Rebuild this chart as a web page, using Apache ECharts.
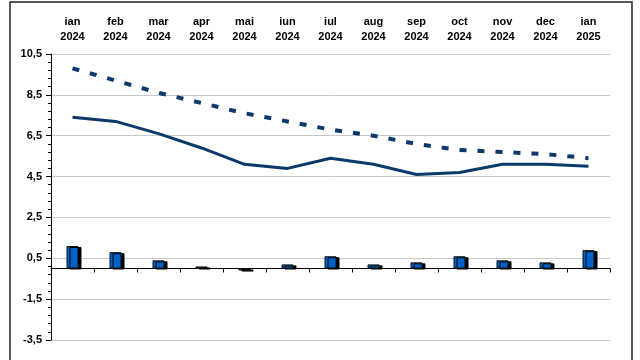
<!DOCTYPE html>
<html>
<head>
<meta charset="utf-8">
<script src="https://cdn.jsdelivr.net/npm/echarts@6/dist/echarts.min.js"></script>
<style>html,body{margin:0;padding:0;background:#fff}#c{width:640px;height:360px}</style>
</head>
<body>
<div id="c"></div>
<script>
const categories = ['ian\n2024','feb\n2024','mar\n2024','apr\n2024','mai\n2024','iun\n2024','iul\n2024','aug\n2024','sep\n2024','oct\n2024','nov\n2024','dec\n2024','ian\n2025'];
const solidLine = [7.4, 7.2, 6.6, 5.9, 5.1, 4.9, 5.4, 5.1, 4.6, 4.7, 5.1, 5.1, 5.0];
const dashedLine = [9.8, 9.2, 8.6, 8.1, 7.6, 7.2, 6.8, 6.5, 6.1, 5.8, 5.7, 5.6, 5.4];
const barValues = [1.1, 0.8, 0.4, 0.1, -0.1, 0.2, 0.6, 0.2, 0.3, 0.6, 0.4, 0.3, 0.9];
const yMin = -3.5, yMax = 10.5, yStep = 2;

const chart = echarts.init(document.getElementById('c'), null, {renderer: 'canvas'});
const navy = '#0b3a6a';
chart.setOption({
  animation: false,
  backgroundColor: '#fff',
  grid: {left: 51, right: 30, top: 54, bottom: 20},
  graphic: [{
    type: 'rect', shape: {x: 10, y: 2, width: 622, height: 420},
    style: {fill: 'none', stroke: '#222', lineWidth: 1.5}, silent: true, z: 100
  }],
  xAxis: [{
    type: 'category', data: categories, position: 'bottom',
    axisLine: {onZero: true, lineStyle: {color: '#000', width: 1}},
    axisTick: {show: true, length: 4, inside: false, lineStyle: {color: '#000'}},
    axisLabel: {show: false}, splitLine: {show: false}
  }, {
    type: 'category', data: categories, position: 'top',
    axisLine: {show: false}, axisTick: {show: false},
    axisLabel: {show: true, margin: 10, fontFamily: 'Liberation Sans, Arial', fontWeight: 'bold', fontSize: 11, lineHeight: 15, color: '#000'},
    splitLine: {show: false}
  }],
  yAxis: {
    type: 'value', min: yMin, max: yMax, interval: yStep,
    axisLine: {show: true, onZero: false, lineStyle: {color: '#000', width: 1}},
    axisTick: {show: true, length: 5, lineStyle: {color: '#000'}},
    minorTick: {show: true, splitNumber: 5, length: 3, lineStyle: {color: '#000'}},
    axisLabel: {margin: 9, fontFamily: 'Liberation Sans, Arial', fontWeight: 'bold', fontSize: 11, color: '#000',
      formatter: v => v.toFixed(1).replace('.', ',')},
    splitLine: {show: true, lineStyle: {color: '#c8c8c8', width: 1}}
  },
  series: [{
    type: 'bar', data: barValues, barWidth: 12, xAxisIndex: 0,
    itemStyle: {color: '#0062c8', borderColor: '#111', borderWidth: 1,
      shadowColor: '#000', shadowOffsetX: 3, shadowOffsetY: 1, shadowBlur: 0}
  }, {
    type: 'line', data: solidLine, xAxisIndex: 0, symbol: 'none',
    lineStyle: {color: navy, width: 3}
  }, {
    type: 'line', data: dashedLine, xAxisIndex: 0, symbol: 'none',
    lineStyle: {color: navy, width: 4, type: [7, 11]}
  }]
});
</script>
</body>
</html>
